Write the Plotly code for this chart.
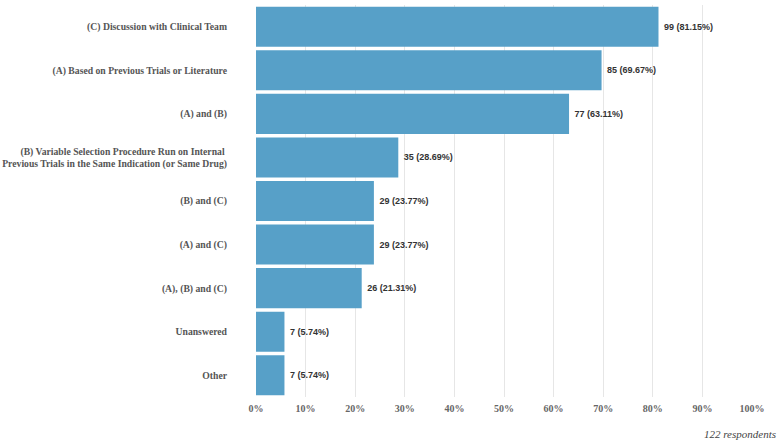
import plotly.graph_objects as go

categories = [
    "(C) Discussion with Clinical Team",
    "(A) Based on Previous Trials or Literature",
    "(A) and (B)",
    "(B) Variable Selection Procedure Run on Internal <br>Previous Trials in the Same Indication (or Same Drug)",
    "(B) and (C)",
    "(A) and (C)",
    "(A), (B) and (C)",
    "Unanswered",
    "Other",
]
counts = [99, 85, 77, 35, 29, 29, 26, 7, 7]
total_respondents = 122
percents = [c / total_respondents * 100 for c in counts]
labels = [f"\u00a0{c} ({p:.2f}%)" for c, p in zip(counts, percents)]
tick_vals = [0, 10, 20, 30, 40, 50, 60, 70, 80, 90, 100]
tick_text = [f"{v}%" for v in tick_vals]

fig = go.Figure(go.Bar(
    x=percents,
    y=categories,
    orientation="h",
    marker=dict(color="#57a0c8", line=dict(width=0)),
    text=labels,
    textposition="outside",
    cliponaxis=False,
    textfont=dict(family="Liberation Sans, Arial", size=9, color="#333333", weight="bold"),
))

fig.update_layout(
    width=778, height=443,
    margin=dict(l=256, r=26, t=5, b=46),
    plot_bgcolor="white", paper_bgcolor="white",
    bargap=0.08,
    showlegend=False,
    xaxis=dict(
        range=[0, 100], tickvals=tick_vals, ticktext=tick_text,
        showgrid=True, gridcolor="#e6e6e6", gridwidth=1, zeroline=False,
        tickfont=dict(family="Liberation Serif, Times New Roman", size=10, color="#666666", weight="bold"),
        ticklabelstandoff=4, automargin=False,
    ),
    yaxis=dict(
        autorange="reversed", showgrid=False, automargin=False,
        tickfont=dict(family="Liberation Serif, Times New Roman", size=9.7, color="#555555", weight="bold"),
        ticklabelstandoff=28,
    ),
    annotations=[dict(
        text="122 respondents", xref="paper", yref="paper", x=1.052, y=-0.075,
        xanchor="right", yanchor="top", showarrow=False,
        font=dict(family="Liberation Serif, Times New Roman", size=11, color="#444444", style="italic"),
    )],
)

fig.write_html("out.html")
